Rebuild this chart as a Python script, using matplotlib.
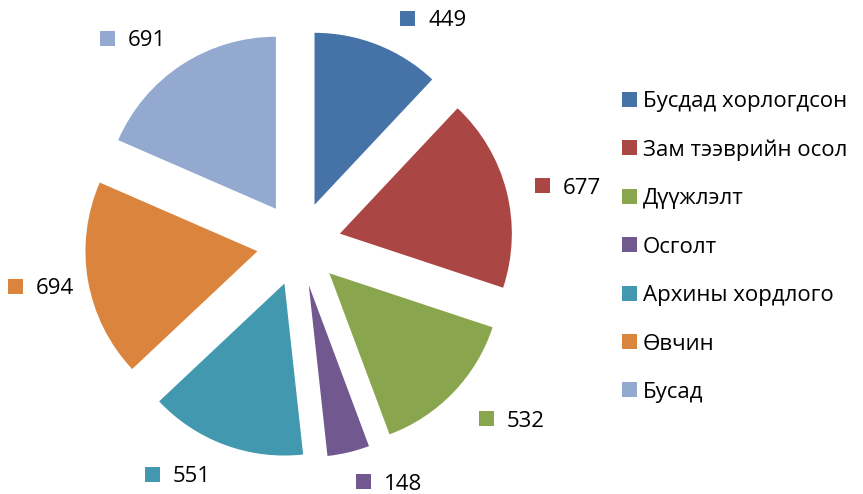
import matplotlib
matplotlib.use("Agg")
import matplotlib.pyplot as plt
from matplotlib.patches import Rectangle

categories = ["Бусдад хорлогдсон", "Зам тээврийн осол", "Дүүжлэлт", "Осголт",
              "Архины хордлого", "Өвчин", "Бусад"]
values = [449, 677, 532, 148, 551, 694, 691]
colors = ["#4572A7", "#AA4643", "#89A54E", "#71588F", "#4198AF", "#DB843D", "#93A9CF"]

# label anchor (centre of the small colour square), pixel coords from top-left
label_anchor_px = [(407.5, 18.5), (542.5, 185.5), (486, 418.5), (363.5, 481.5),
                   (152.5, 474), (15.5, 286.5), (107.5, 38.5)]

W, H = 863, 494
plt.rcParams['font.family'] = ['Open Sans', 'DejaVu Sans']
fig = plt.figure(figsize=(W / 100, H / 100), dpi=100)
ax = fig.add_axes([0, 0, 1, 1])

cx, cy, r = 299, 244, 172
explode_frac = 0.245
ax.pie(values, colors=colors, startangle=90, counterclock=False,
       explode=[explode_frac * r] * len(values), center=(cx, H - cy), radius=r,
       wedgeprops=dict(linewidth=0))
ax.set_xlim(0, W)
ax.set_ylim(0, H)
ax.set_aspect('auto')
ax.axis('off')

sq = 15
fs = 16
for v, c, (px, py) in zip(values, colors, label_anchor_px):
    ax.add_patch(Rectangle((px - sq / 2, H - py - sq / 2), sq, sq, color=c, lw=0))
    ax.text(px - sq / 2 + 28, H - py, str(v), ha='left', va='center_baseline',
            fontsize=fs, color='black')

# legend
lx, ly0, dy = 629.5, 99.5, 48.4
for i, (cat, c) in enumerate(zip(categories, colors)):
    y = ly0 + i * dy
    ax.add_patch(Rectangle((lx - sq / 2, H - y - sq / 2), sq, sq, color=c, lw=0))
    ax.text(643, H - y, cat, ha='left', va='center_baseline', fontsize=fs, color='black')

fig.savefig("out.png", dpi=100)
